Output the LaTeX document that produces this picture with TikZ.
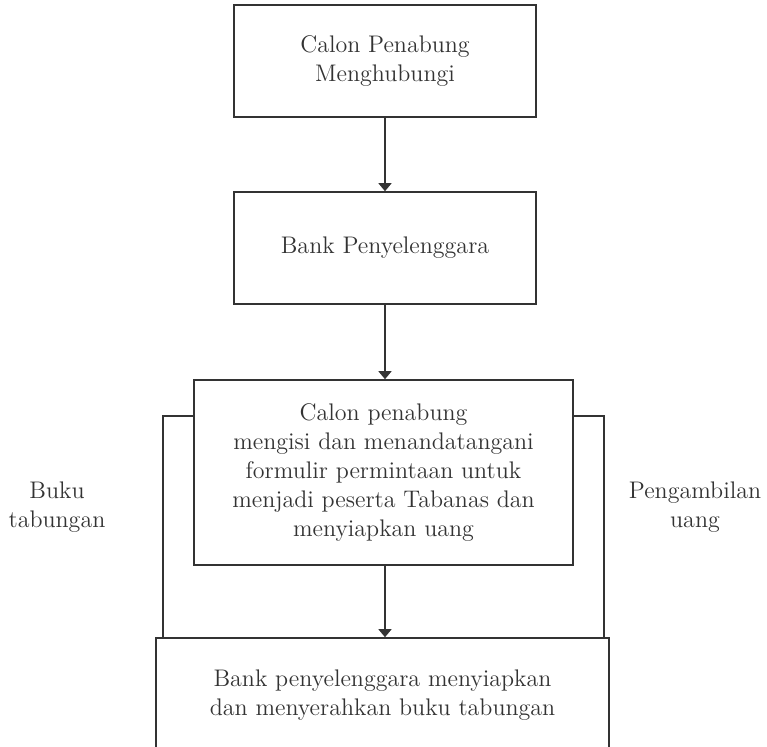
\documentclass[tikz,border=0pt]{standalone}
\usepackage{tikz}
\usetikzlibrary{arrows.meta}

\begin{document}
\begin{tikzpicture}[x=0.5pt,y=-0.5pt,
  ink/.style={black!80},
  kotak/.style={draw=black!80,line width=0.8pt,align=center,inner sep=0pt,
    font=\fontsize{12}{14.5}\selectfont,text=black!80},
  label/.style={align=center,font=\fontsize{12}{14.5}\selectfont,text=black!80},
  panah/.style={draw=black!80,line width=0.8pt,-{Triangle[length=4pt,width=6.5pt]}},
  garis/.style={draw=black!80,line width=0.8pt}]

\useasboundingbox (0,0) rectangle (767,746);

\node[kotak,minimum width=151pt,minimum height=56pt] (hubungi) at (385,61)
  {Calon Penabung\\Menghubungi};
\node[kotak,minimum width=151pt,minimum height=56pt] (bank) at (385,248)
  {Bank Penyelenggara};
\node[kotak,minimum width=189.5pt,minimum height=92.5pt] (isi) at (383.5,472.5)
  {Calon penabung\\mengisi dan menandatangani\\formulir permintaan untuk\\menjadi peserta Tabanas dan\\menyiapkan uang};
\node[kotak,minimum width=226.5pt,minimum height=57pt] (serah) at (382.5,695)
  {Bank penyelenggara menyiapkan\\dan menyerahkan buku tabungan};

\node[label] (buku) at (57,507) {Buku\\tabungan};
\node[label] (ambil) at (695,507) {Pengambilan\\uang};

\draw[panah] (hubungi) -- (bank);
\draw[panah] (bank) -- (bank |- isi.north);
\draw[panah] (bank |- isi.south) -- (bank |- serah.north);

\draw[garis] ([yshift=-18.5pt]isi.north west) -- ++(-30,0) coordinate (kiri)
  -- (kiri |- serah.north);
\draw[garis] ([yshift=-18.5pt]isi.north east) -- ++(30,0) coordinate (kanan)
  -- (kanan |- serah.north);

\end{tikzpicture}
\end{document}
